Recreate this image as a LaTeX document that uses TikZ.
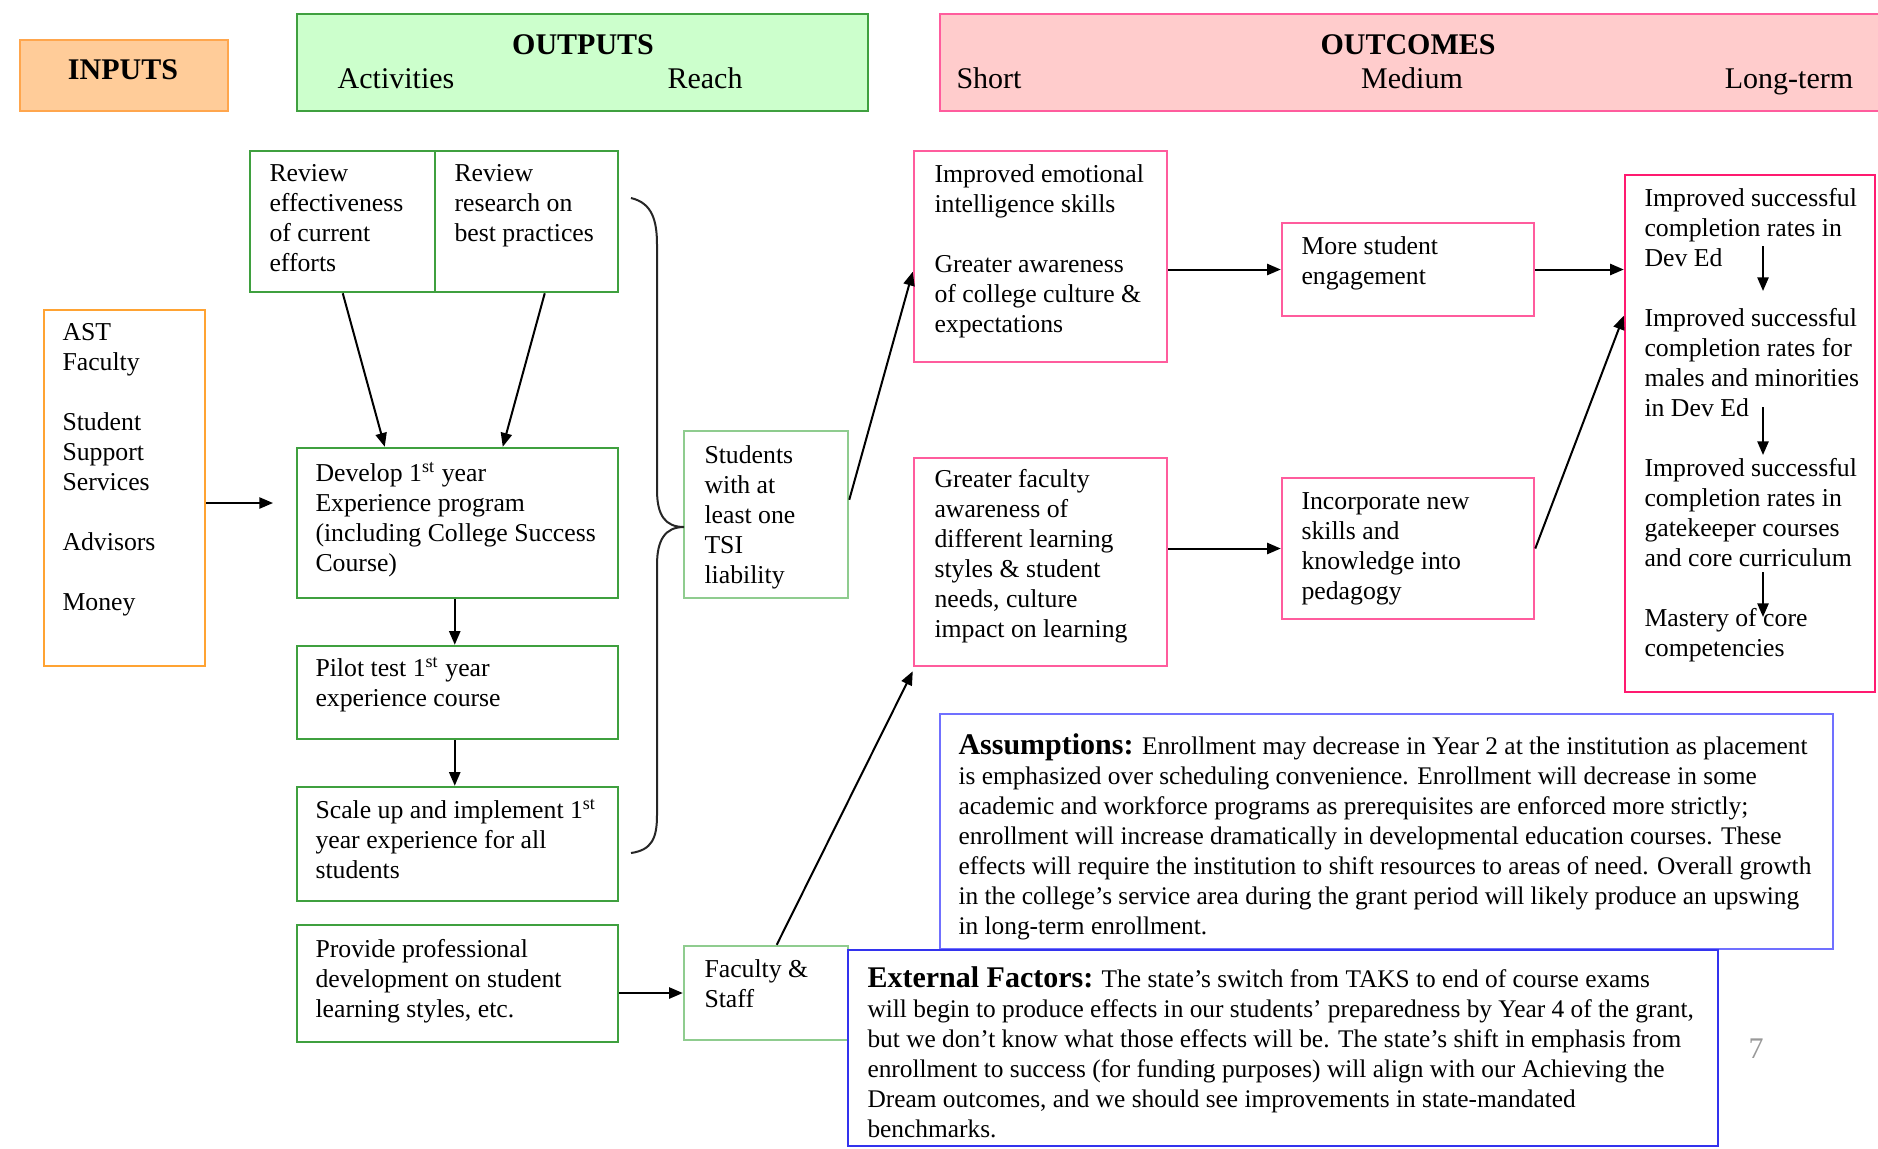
\documentclass[tikz,border=0pt]{standalone}
\usepackage{fontspec}
\setmainfont{Liberation Serif}
\usetikzlibrary{arrows.meta,fit,calc}
\definecolor{inpfill}{HTML}{FFCC99}
\definecolor{inpdraw}{HTML}{FFA64D}
\definecolor{outfill}{HTML}{CCFFCC}
\definecolor{grn}{HTML}{3FA03F}
\definecolor{lgrn}{HTML}{8FCC8F}
\definecolor{ocfill}{HTML}{FFCCCC}
\definecolor{pnk}{HTML}{FF5C9D}
\definecolor{dpnk}{HTML}{FF1A70}
\definecolor{org}{HTML}{FFA333}
\definecolor{blu}{HTML}{7070FF}
\definecolor{dblu}{HTML}{3333EE}
\definecolor{pgnum}{HTML}{999999}
\begin{document}
\begin{tikzpicture}[x=0.4pt,y=-0.4pt,
  box/.style={inner sep=0pt, line width=1pt, fill=white},
  gbox/.style={box, draw=grn},
  lgbox/.style={box, draw=lgrn},
  pbox/.style={box, draw=pnk},
  txt/.style={inner sep=0pt, anchor=north west, align=left, font=\fontsize{10.3}{12}\selectfont},
  ptxt/.style={txt, font=\fontsize{10.15}{12}\selectfont},
  hdr/.style={inner sep=0pt, anchor=base, font=\fontsize{12}{14}\selectfont},
  hdrb/.style={hdr, font=\fontsize{12}{14}\selectfont\bfseries},
  arr/.style={line width=0.8pt, -{Triangle[length=5.5pt,width=4.5pt]}},
]
\useasboundingbox (0,0) rectangle (1878,1148);
\fill[white] (0,0) rectangle (1878,1148);

% header bars
\node[box, fill=inpfill, draw=inpdraw, fit={(20,40)(228,111)}] (inp) {};
\node[hdrb] (inpt) at (123,79) {INPUTS};
\node[box, fill=outfill, draw=grn, fit={(297,14)(868,111)}] (outp) {};
\node[hdrb] (outt) at (583,54) {OUTPUTS};
\node[hdr] (act) at (396,88) {Activities};
\node[hdr] (reach) at (705,88) {Reach};
\node[box, fill=ocfill, draw=pnk, fit={(940,14)(1882,111)}] (outc) {};
\node[hdrb] (outct) at (1408,54) {OUTCOMES};
\node[hdr] (short) at (989,88) {Short};
\node[hdr] (medium) at (1412,88) {Medium};
\node[hdr] (long) at (1789,88) {Long-term};

% inputs
\node[box, draw=org, fit={(44,310)(205,666)}] (ast) {};
\node[txt] (astt) at (62,323) {AST\\Faculty\\[12pt]Student\\Support\\Services\\[12pt]Advisors\\[12pt]Money};

% activities
\node[gbox, fit={(250,151)(435,292)}] (rev1) {};
\node[txt] (rev1t) at (269,164) {Review\\effectiveness\\of current\\efforts};
\node[gbox, fit={(435,151)(618,292)}] (rev2) {};
\node[txt] (rev2t) at (454,164) {Review\\research on\\best practices};
\node[gbox, fit={(297,448)(618,598)}] (dev) {};
\node[txt] (devt) at (315,462) {Develop 1\textsuperscript{st} year\\Experience program\\(including College Success\\Course)};
\node[gbox, fit={(297,646)(618,739)}] (pilot) {};
\node[txt] (pilott) at (315,657) {Pilot test 1\textsuperscript{st} year\\experience course};
\node[gbox, fit={(297,787)(618,901)}] (scale) {};
\node[txt] (scalet) at (315,799) {Scale up and implement 1\textsuperscript{st}\\year experience for all\\students};
\node[gbox, fit={(297,925)(618,1042)}] (prov) {};
\node[txt] (provt) at (315,939) {Provide professional\\development on student\\learning styles, etc.};

% reach
\node[lgbox, fit={(684,431)(848,598)}] (stu) {};
\node[txt] (stut) at (704,445) {Students\\with at\\least one\\TSI\\liability};
\node[lgbox, fit={(684,946)(848,1040)}] (fac) {};
\node[txt] (fact) at (704,959) {Faculty \&\\Staff};

% short
\node[pbox, fit={(914,151)(1167,362)}] (emo) {};
\node[txt] (emot) at (934,164) {Improved emotional\\intelligence skills\\[12pt]Greater awareness\\of college culture \&\\expectations};
\node[pbox, fit={(914,458)(1167,666)}] (gfac) {};
\node[txt] (gfact) at (934,469) {Greater faculty\\awareness of\\different learning\\styles \& student\\needs, culture\\impact on learning};

% medium
\node[pbox, fit={(1282,223)(1534,316)}] (more) {};
\node[txt] (moret) at (1301,236) {More student\\engagement};
\node[pbox, fit={(1282,478)(1534,619)}] (inc) {};
\node[txt] (inct) at (1301,492) {Incorporate new\\skills and\\knowledge into\\pedagogy};

% long-term
\node[box, draw=dpnk, fit={(1625,175)(1875,692)}] (lt) {};
\node[txt] (ltt) at (1644,188) {Improved successful\\completion rates in\\Dev Ed\\[12pt]Improved successful\\completion rates for\\males and minorities\\in Dev Ed\\[12pt]Improved successful\\completion rates in\\gatekeeper courses\\and core curriculum\\[12pt]Mastery of core\\competencies};

% assumptions and external factors
\node[box, draw=blu, fit={(940,714)(1833,949)}] (ass) {};
\node[ptxt] (asst) at (958,733) {{\fontsize{12}{12}\selectfont\bfseries Assumptions:} Enrollment may decrease in Year 2 at the institution as placement\\is emphasized over scheduling convenience. Enrollment will decrease in some\\academic and workforce programs as prerequisites are enforced more strictly;\\enrollment will increase dramatically in developmental education courses. These\\effects will require the institution to shift resources to areas of need. Overall growth\\in the college's service area during the grant period will likely produce an upswing\\in long-term enrollment.};
\node[box, draw=dblu, fit={(848,950)(1718,1146)}] (ext) {};
\node[ptxt] (extt) at (867,966) {{\fontsize{12}{12}\selectfont\bfseries External Factors:} The state's switch from TAKS to end of course exams\\will begin to produce effects in our students' preparedness by Year 4 of the grant,\\but we don't know what those effects will be. The state's shift in emphasis from\\enrollment to success (for funding purposes) will align with our Achieving the\\Dream outcomes, and we should see improvements in state-mandated\\benchmarks.};
\node[hdr, text=pgnum] (pg) at (1756,1058) {7};

% brace
\draw[line width=0.8pt, black!85] (631,198) .. controls (652,203) and (657,220) .. (657,245) -- (657,490) .. controls (657,515) and (665,527) .. (684,527) .. controls (665,527) and (657,540) .. (657,565) -- (657,815) .. controls (657,838) and (652,850) .. (631,853);

% connectors
\coordinate (astend) at (273,503);
\draw[arr] (ast.east |- astend) -- (astend);
\draw[arr] ($(rev1.south west)+(94,0)$) -- ($(dev.north west)+(89,0)$);
\draw[arr] ($(rev2.south west)+(111,0)$) -- ($(dev.north west)+(207,0)$);
\draw[arr] ($(dev.south west)+(159,0)$) -- ($(pilot.north west)+(159,0)$);
\draw[arr] ($(pilot.south west)+(159,0)$) -- ($(scale.north west)+(159,0)$);
\draw[arr] (fac.west -| prov.east) -- (fac.west);
\draw[arr] ($(stu.north east)+(0,70)$) -- ($(emo.north west)+(0,122)$);
\draw[arr] ($(fac.north west)+(94,0)$) -- ($(gfac.south west)+(0,4)$);
\draw[arr] (emo.east |- more.west) -- (more.west);
\draw[arr] (gfac.east |- inc.west) -- (inc.west);
\draw[arr] (more.east) -- (lt.west |- more.east);
\draw[arr] (inc.east) -- ($(lt.north west)+(0,142)$);
\coordinate (a1s) at (1763,246); \coordinate (a1e) at (1763,291);
\coordinate (a2s) at (1763,407); \coordinate (a2e) at (1763,455);
\coordinate (a3s) at (1763,572); \coordinate (a3e) at (1763,617);
\draw[arr] (a1s) -- (a1e);
\draw[arr] (a2s) -- (a2e);
\draw[arr] (a3s) -- (a3e);
\end{tikzpicture}
\end{document}
